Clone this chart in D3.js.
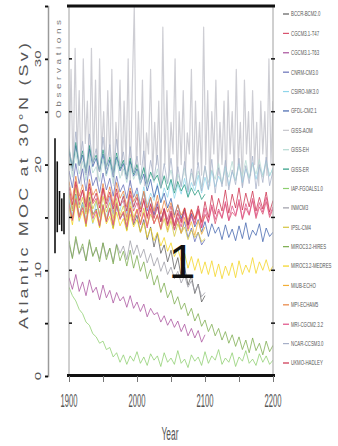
<!DOCTYPE html>
<html>
<head>
<meta charset="utf-8">
<script src="https://cdn.jsdelivr.net/npm/d3@7/dist/d3.min.js"></script>
<style>
  html, body { margin: 0; padding: 0; background: #fff; }
  svg { display: block; }
  text { font-family: "Liberation Sans Narrow", "Liberation Sans", Arial, sans-serif; }
</style>
</head>
<body>
<div id="chart"></div>
<script>
// AMOC strength at 30N, 1900-2200, one run per model (Sv)
const modelNames = ["BCCR-BCM2.0", "CGCM3.1-T47", "CGCM3.1-T63", "CNRM-CM3.0", "CSIRO-MK3.0",
  "GFDL-CM2.1", "GISS-AOM", "GISS-EH", "GISS-ER", "IAP-FGOALS1.0", "INMCM3", "IPSL-CM4",
  "MIROC3.2-HIRES", "MIROC3.2-MEDRES", "MIUB-ECHO", "MPI-ECHAM5", "MRI-CGCM2.3.2",
  "NCAR-CCSM3.0", "UKMO-HADLEY"];

const modelColors = ["#5e5e5e", "#d9536e", "#a8509c", "#6670b8", "#8fd5ea",
  "#4264ad", "#c6c6cc", "#b4dad2", "#2a9a80", "#8dcf6f", "#9c9ca6", "#d4c43c",
  "#7aab4c", "#f3d31e", "#f2ae36", "#e8823e", "#e04f86",
  "#a7b0c8", "#cc2f4c"];

const runStart = 1900;

const bccr = [16.5, 14.8, 17.2, 15.1, 16.4, 14.2, 16.9, 15.3, 15.8, 14.1,
  16.2, 14.6, 15.9, 14.0, 16.1, 14.9, 15.4, 13.8, 15.9, 14.3,
  15.2, 13.6, 14.8, 12.9, 14.1, 12.2, 13.5, 11.6, 12.4, 10.8,
  11.9, 10.1, 11.2, 9.4, 10.3, 8.6, 9.5, 7.8, 8.7, 7.0, 7.6];

const cgcm47 = [17.4, 15.8, 18.1, 16.2, 17.6, 15.5, 17.9, 16.3, 16.8, 15.2,
  17.7, 15.9, 17.0, 15.4, 17.3, 16.1, 16.6, 15.0, 17.1, 15.6,
  16.4, 15.1, 16.8, 14.9, 16.2, 15.3, 16.5, 14.6, 15.9, 14.8,
  16.1, 14.3, 15.7, 14.7, 15.9, 14.2, 15.4, 14.5, 15.8, 14.0,
  15.3, 14.6, 16.0, 14.4, 15.6, 14.9, 16.3, 14.7, 15.5, 15.1,
  16.4, 14.8, 15.9, 15.2, 16.6, 14.9, 16.0, 15.3, 16.5, 15.0, 15.8];

const cgcm63 = [9.3, 8.2, 9.6, 8.0, 8.9, 7.6, 9.1, 7.9, 8.4, 7.2,
  8.6, 7.4, 8.1, 6.9, 7.9, 7.1, 7.5, 6.5, 7.6, 6.4,
  7.0, 6.1, 6.8, 5.6, 6.4, 5.8, 6.0, 5.1, 5.7, 4.8,
  5.4, 4.6, 5.2, 4.2, 4.9, 3.8, 4.5, 3.6, 4.3, 3.2, 3.9];

const cnrm = [19.4, 17.8, 20.1, 18.2, 19.6, 17.5, 19.9, 18.0, 18.8, 17.3,
  19.2, 17.6, 18.7, 17.0, 18.9, 17.4, 18.1, 16.8, 18.5, 16.9,
  17.8, 16.2, 17.4, 15.6, 16.9, 15.2, 16.3, 14.6, 15.8, 14.3,
  15.4, 13.8, 14.9, 13.5, 14.6, 13.1, 14.0, 12.7, 13.6, 12.4, 12.9];

const csiro = [16.8, 15.2, 17.1, 14.6, 16.3, 14.9, 15.8, 14.4, 16.5, 15.0,
  16.2, 14.8, 16.9, 15.3, 16.4, 15.6, 17.2, 15.4, 16.8, 15.9,
  17.5, 15.8, 17.9, 16.2, 17.3, 16.6, 18.2, 16.4, 17.8, 16.9,
  18.5, 16.8, 18.1, 17.2, 18.7, 17.0, 18.3, 17.5, 19.0, 17.3,
  18.8, 17.6, 19.4, 17.9, 18.9, 18.2, 19.8, 18.0, 19.3, 18.5,
  20.1, 18.3, 19.6, 18.7, 20.2, 18.6, 19.8, 19.0, 20.4, 18.9, 19.7];

const gfdl = [21.2, 19.6, 21.8, 19.9, 20.9, 19.2, 21.5, 19.8, 20.6, 19.3,
  21.0, 19.1, 20.4, 18.8, 20.7, 19.4, 20.1, 18.6, 20.3, 18.9,
  19.6, 18.2, 19.1, 17.5, 18.6, 16.9, 18.0, 16.4, 17.3, 15.9,
  16.8, 15.2, 16.2, 14.9, 15.7, 14.3, 15.3, 14.1, 14.8, 13.6,
  14.6, 13.2, 14.4, 13.5, 14.1, 12.9, 14.3, 13.1, 13.9, 12.8,
  14.2, 13.0, 14.5, 12.9, 13.8, 13.3, 14.4, 12.7, 14.0, 13.2, 13.6];

// every third year
const gissAom = [20, 29, 19, 31, 21, 27, 18, 30, 22, 26,
  19, 31, 20, 28, 18, 30, 21, 25, 19, 27,
  20, 29, 18, 24, 21, 28, 19, 26, 20, 30,
  18, 27, 35, 19, 25, 20, 28, 18, 23, 21,
  29, 19, 24, 20, 26, 18, 33, 20, 27, 19,
  24, 21, 30, 18, 25, 20, 27, 19, 23, 21,
  29, 18, 26, 20, 24, 19, 33, 20, 27, 18,
  25, 21, 28, 19, 24, 20, 26, 18, 27, 21,
  25, 19, 29, 20, 24, 18, 28, 21, 25, 19,
  27, 20, 24, 18, 26, 21, 25, 19, 30, 20, 26];

const gissEh = [20.6, 18.8, 21.2, 19.1, 20.3, 18.5, 20.9, 19.2, 19.8, 18.4,
  20.5, 18.9, 20.1, 18.2, 20.4, 18.7, 19.6, 18.3, 20.0, 18.6,
  19.4, 18.1, 19.8, 17.9, 19.2, 18.3, 19.6, 17.7, 19.0, 18.2,
  19.5, 17.8, 19.1, 18.0, 19.7, 17.6, 19.2, 18.1, 19.4, 17.9,
  19.8, 18.3, 19.5, 18.6, 20.1, 18.2, 19.7, 18.8, 20.3, 18.5,
  19.9, 18.9, 20.4, 18.7, 20.0, 19.1, 20.5, 18.8, 20.2, 19.0, 19.6];

const gissEr = [21.5, 19.7, 22.1, 20.0, 21.3, 19.4, 21.8, 20.2, 20.9, 19.5,
  21.4, 19.8, 20.7, 19.2, 21.1, 19.6, 20.4, 18.9, 20.6, 19.1,
  20.0, 18.6, 19.7, 18.2, 19.3, 18.5, 19.0, 17.8, 18.9, 17.6,
  18.6, 17.3, 18.4, 17.5, 18.1, 16.9, 17.8, 17.1, 17.6, 16.7, 17.2];

const iap = [8.4, 7.6, 7.1, 6.3, 5.9, 5.1, 4.8, 4.0, 3.7, 3.1,
  3.3, 2.5, 2.7, 1.8, 2.2, 1.3, 2.0, 1.1, 1.9, 1.4,
  2.3, 1.2, 1.8, 1.0, 2.1, 1.5, 1.9, 0.9, 2.2, 1.3,
  1.7, 1.1, 2.4, 1.2, 1.6, 0.8, 2.0, 1.4, 1.8, 1.0,
  2.3, 1.2, 1.9, 1.5, 2.5, 1.1, 1.7, 1.3, 2.2, 0.9,
  1.8, 1.4, 2.4, 1.2, 1.6, 1.0, 2.1, 1.3, 1.9, 1.1, 1.5];

const inmcm = [12.4, 11.2, 12.9, 11.5, 12.2, 10.9, 12.7, 11.4, 12.0, 11.1,
  12.6, 11.3, 12.1, 10.8, 12.5, 11.6, 12.3, 11.0, 12.8, 11.5,
  12.4, 11.2, 12.0, 10.7, 11.6, 10.4, 11.2, 9.9, 10.8, 9.6,
  10.3, 9.2, 9.9, 8.8, 9.5, 8.4, 9.0, 8.0, 8.6, 7.5, 7.9];

const ipsl = [17.2, 15.6, 17.8, 15.9, 16.9, 15.3, 17.4, 15.8, 16.6, 15.1,
  17.0, 15.5, 16.4, 14.9, 16.8, 15.2, 16.1, 14.7, 16.5, 15.0,
  15.8, 14.4, 15.9, 14.2, 15.3, 14.5, 15.1, 13.8, 14.9, 13.6,
  14.7, 13.2, 14.4, 13.5, 14.1, 12.9, 13.8, 13.1, 13.6, 12.7, 13.0];

const mirocHi = [12.8, 11.1, 13.2, 11.6, 12.5, 10.9, 12.9, 11.3, 12.2, 10.8,
  12.6, 11.0, 12.1, 10.6, 12.4, 10.9, 11.8, 10.4, 11.9, 10.2,
  11.4, 9.9, 10.8, 9.2, 10.1, 8.6, 9.5, 7.9, 8.8, 7.4,
  8.1, 6.8, 7.5, 6.3, 6.9, 5.7, 6.4, 5.2, 5.9, 4.7,
  5.3, 4.2, 4.9, 3.8, 4.5, 3.4, 4.2, 3.1, 3.9, 2.8,
  3.7, 2.5, 3.4, 2.2, 3.6, 2.4, 3.1, 2.0, 3.3, 2.3, 2.9];

const mirocMed = [15.9, 14.3, 16.4, 14.7, 15.6, 14.1, 16.2, 14.5, 15.3, 14.0,
  15.8, 14.4, 15.1, 13.9, 15.5, 14.2, 14.9, 13.7, 15.3, 14.1,
  14.8, 13.6, 14.5, 13.1, 14.0, 12.8, 13.6, 12.3, 13.1, 11.8,
  12.6, 11.3, 12.0, 10.9, 11.6, 10.2, 11.3, 10.0, 11.1, 9.7,
  10.8, 9.6, 10.9, 9.4, 10.6, 9.2, 10.4, 9.5, 10.7, 9.3,
  10.9, 9.6, 10.5, 9.8, 11.2, 9.7, 10.8, 10.0, 11.0, 9.9, 10.4];

const miub = [16.3, 14.9, 16.8, 15.1, 16.0, 14.6, 16.5, 15.2, 15.7, 14.5,
  16.2, 14.8, 15.9, 14.4, 16.4, 15.0, 15.6, 14.3, 16.1, 14.7,
  15.8, 14.5, 15.5, 14.2, 15.9, 14.4, 15.3, 14.0, 15.6, 13.8,
  15.1, 13.9, 14.8, 13.5, 15.0, 13.7, 14.6, 13.3, 14.7, 13.4, 14.1];

const mpi = [18.4, 16.7, 18.9, 17.0, 18.1, 16.4, 18.6, 17.1, 17.7, 16.3,
  18.2, 16.6, 17.9, 16.2, 18.3, 16.8, 17.5, 16.0, 17.8, 16.5,
  17.2, 15.8, 17.5, 15.9, 16.9, 15.6, 17.1, 15.3, 16.6, 15.5,
  16.4, 15.0, 16.2, 15.2, 15.9, 14.7, 15.8, 14.9, 15.6, 14.5, 15.1];

const mri = [16.2, 14.7, 16.7, 15.0, 15.9, 14.4, 16.4, 14.9, 15.6, 14.2,
  16.1, 14.6, 15.8, 14.3, 16.3, 14.8, 15.5, 14.1, 15.9, 14.5,
  15.7, 14.3, 15.4, 14.0, 15.8, 14.4, 15.2, 13.9, 15.6, 14.2,
  15.3, 13.8, 15.0, 14.1, 15.5, 13.9, 15.1, 14.3, 15.7, 14.0,
  15.9, 14.5, 16.2, 14.8, 15.8, 15.0, 16.5, 14.7, 16.1, 15.2,
  16.7, 14.9, 16.3, 15.3, 16.8, 15.1, 16.4, 15.5, 16.9, 15.2, 16.0];

const ncar = [21.8, 19.4, 23.1, 19.9, 22.2, 19.0, 22.9, 20.1, 21.5, 19.3,
  22.6, 19.6, 21.9, 18.9, 22.4, 19.8, 21.2, 18.7, 21.7, 19.2,
  20.8, 18.5, 21.3, 18.1, 20.4, 18.6, 20.9, 17.8, 20.1, 18.2,
  20.6, 17.6, 19.8, 17.9, 20.3, 17.4, 19.6, 18.0, 20.2, 17.5,
  19.9, 17.7, 20.5, 17.3, 19.7, 17.9, 20.4, 17.6, 19.5, 18.1,
  20.6, 17.8, 19.9, 18.2, 20.8, 17.7, 20.0, 18.3, 20.7, 18.0, 19.4];

const ukmo = [17.9, 16.2, 18.4, 16.6, 17.6, 16.0, 18.2, 16.5, 17.3, 15.9,
  17.8, 16.3, 17.4, 15.8, 17.7, 16.1, 17.0, 15.6, 17.5, 16.0,
  16.9, 15.5, 16.6, 15.1, 16.3, 14.9, 16.0, 14.6, 15.8, 14.4,
  15.6, 14.2, 15.4, 14.5, 15.9, 14.3, 15.7, 14.8, 16.1, 14.6,
  16.5, 15.0, 17.1, 15.3, 16.8, 15.6, 17.6, 15.4, 17.2, 15.9,
  17.8, 15.7, 17.3, 16.0, 17.5, 15.6, 16.9, 15.8, 17.4, 15.5, 16.6];

const modelRuns = [bccr, cgcm47, cgcm63, cnrm, csiro, gfdl, gissAom, gissEh, gissEr,
  iap, inmcm, ipsl, mirocHi, mirocMed, miub, mpi, mri, ncar, ukmo];
const runSteps = modelNames.map(n => n === "GISS-AOM" ? 3 : 5);

// observed estimates, low/high (Sv)
const obsLow = [11.6, 13.6, 14.3, 13.7, 13.4];
const obsHigh = [22.5, 20.3, 17.5, 16.8, 17.3];

const yTicks = [0, 5, 10, 15, 20, 25, 30, 35];
const yLabels = [0, 10, 20, 30];
const xTicks = [1900, 1950, 2000, 2050, 2100, 2150, 2200];
const xLabels = [1900, 2000, 2100, 2200];

const W = 338, H = 446;
const svg = d3.select("#chart").append("svg")
  .attr("width", W).attr("height", H);

const x = d3.scaleLinear().domain([1900, 2200]).range([69, 273]);
const y = d3.scaleLinear().domain([0, 35]).range([376, 6]);

svg.append("defs").append("clipPath").attr("id", "plotclip")
  .append("rect").attr("x", 69).attr("y", 6).attr("width", 204).attr("height", 370);

// model runs, spiky GISS-AOM at the back
const order = d3.range(modelNames.length).sort((a, b) =>
  (modelNames[b] === "GISS-AOM") - (modelNames[a] === "GISS-AOM"));

const runs = svg.append("g").attr("clip-path", "url(#plotclip)");
order.forEach(k => {
  const line = d3.line()
    .x((d, i) => x(runStart + i * runSteps[k]))
    .y(d => y(d));
  runs.append("path")
    .datum(modelRuns[k])
    .attr("d", line)
    .attr("fill", "none")
    .attr("stroke", modelColors[k])
    .attr("stroke-width", modelNames[k] === "GISS-AOM" ? 1.2 : 0.9)
    .attr("stroke-opacity", 0.85)
    .attr("stroke-linejoin", "round");
});

// plot frame
const frame = svg.append("g");
frame.append("line").attr("x1", 69).attr("x2", 69).attr("y1", 6).attr("y2", 376)
  .attr("stroke", "#a0a0a0").attr("stroke-width", 1);
frame.append("line").attr("x1", 273).attr("x2", 273).attr("y1", 6).attr("y2", 376)
  .attr("stroke", "#a0a0a0").attr("stroke-width", 1);
frame.append("line").attr("x1", 67).attr("x2", 275).attr("y1", 6).attr("y2", 6)
  .attr("stroke", "#111").attr("stroke-width", 3);
frame.append("line").attr("x1", 67).attr("x2", 275).attr("y1", 375.5).attr("y2", 375.5)
  .attr("stroke", "#111").attr("stroke-width", 3);

// small inner ticks on both frame sides
yTicks.filter(t => t > 0 && t < 35).forEach(t => {
  frame.append("line").attr("x1", 69).attr("x2", 72).attr("y1", y(t)).attr("y2", y(t))
    .attr("stroke", "#111").attr("stroke-width", 1.5);
  frame.append("line").attr("x1", 271).attr("x2", 275).attr("y1", y(t)).attr("y2", y(t))
    .attr("stroke", "#111").attr("stroke-width", 1.5);
});

// left value axis
const yAxis = svg.append("g").attr("transform", "translate(48,0)")
  .call(d3.axisLeft(y).tickValues(yTicks).tickSize(3).tickFormat(""));
yAxis.select(".domain").attr("stroke", "#9a9a9a").attr("stroke-width", 1.5);
yAxis.selectAll(".tick line").attr("stroke", "#111").attr("stroke-width", 1.8);

yLabels.forEach(t => {
  svg.append("text")
    .attr("transform", `translate(41,${y(t)}) scale(0.6,1) rotate(-90)`)
    .attr("text-anchor", "middle")
    .attr("font-size", 15)
    .attr("fill", "#555")
    .text(t);
});

svg.append("text")
  .attr("transform", "translate(28,186) scale(0.7,1) rotate(-90)")
  .attr("text-anchor", "middle")
  .attr("font-size", 18)
  .attr("fill", "#555")
  .attr("textLength", 286)
  .attr("lengthAdjust", "spacing")
  .text("Atlantic MOC at 30°N (Sv)");

svg.append("text")
  .attr("transform", "translate(61,69) scale(0.7,1) rotate(-90)")
  .attr("text-anchor", "middle")
  .attr("font-size", 10)
  .attr("fill", "#777")
  .attr("textLength", 98)
  .attr("lengthAdjust", "spacing")
  .text("Observations");

// observed range bars
const ox = d3.scalePoint().domain(d3.range(obsLow.length)).range([55, 64]);
svg.append("g").selectAll("line")
  .data(obsLow)
  .join("line")
  .attr("x1", (d, i) => ox(i)).attr("x2", (d, i) => ox(i))
  .attr("y1", d => y(d))
  .attr("y2", (d, i) => y(obsHigh[i]))
  .attr("stroke", "#111")
  .attr("stroke-width", 1.6);

// year axis
const xAxis = svg.append("g").attr("transform", "translate(0,376)")
  .call(d3.axisBottom(x).tickValues(xTicks).tickSize(6).tickFormat(""));
xAxis.select(".domain").remove();
xAxis.selectAll(".tick line").attr("stroke", "#777").attr("stroke-width", 1);

xLabels.forEach(t => {
  svg.append("text")
    .attr("x", x(t)).attr("y", 407)
    .attr("text-anchor", "middle")
    .attr("font-size", 18)
    .attr("fill", "#555")
    .attr("textLength", 17)
    .attr("lengthAdjust", "spacingAndGlyphs")
    .text(t);
});

svg.append("text")
  .attr("x", 170).attr("y", 440)
  .attr("text-anchor", "middle")
  .attr("font-size", 18)
  .attr("fill", "#555")
  .attr("textLength", 17)
  .attr("lengthAdjust", "spacingAndGlyphs")
  .text("Year");

// panel marker
svg.append("text")
  .attr("x", 182).attr("y", 278)
  .attr("text-anchor", "middle")
  .attr("font-family", "Liberation Sans, Arial, sans-serif")
  .attr("font-size", 48)
  .attr("fill", "#111")
  .text("1");

// legend
const ly = d3.scalePoint().domain(modelNames).range([14, 363]);
const legend = svg.append("g");
modelNames.forEach((n, k) => {
  legend.append("line")
    .attr("x1", 283).attr("x2", 289)
    .attr("y1", ly(n)).attr("y2", ly(n))
    .attr("stroke", modelColors[k]).attr("stroke-width", 1.2);
  legend.append("text")
    .attr("transform", `translate(291,${ly(n) + 2.4}) scale(0.62,1)`)
    .attr("font-size", 7)
    .attr("fill", "#555")
    .text(n);
});
</script>
</body>
</html>
